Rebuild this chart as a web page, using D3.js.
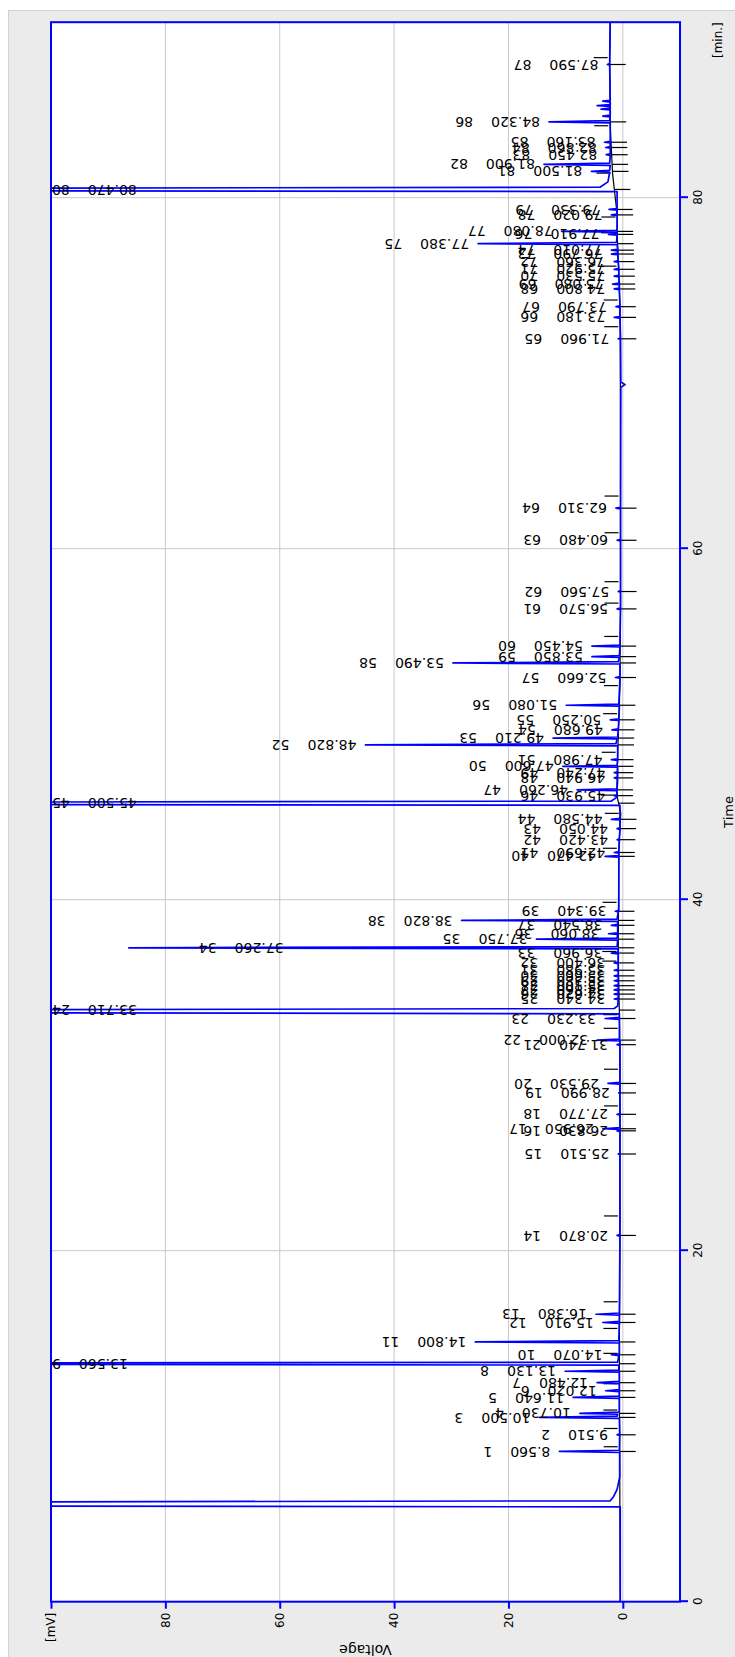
<!DOCTYPE html>
<html lang="en">
<head>
<meta charset="UTF-8">
<title>Chromatogram</title>
<script src="https://d3js.org/d3.v7.min.js"></script>
<style>
  body { margin: 0; background: #fff; }
  svg { display: block; font-family: "DejaVu Sans", sans-serif; }
</style>
</head>
<body>
<div id="chart"></div>
<script>
// peak table: retention time [min], apex [mV]
var peakTimes = [8.56, 9.51, 10.50, 10.73, 11.64, 12.02, 12.48, 13.13, 13.56, 14.07,
    14.80, 15.91, 16.38, 20.87, 25.51, 26.83, 26.95, 27.77, 28.99, 29.53,
    31.74, 32.00, 33.23, 33.71, 34.34, 34.62, 34.86, 35.10, 35.38, 35.66,
    35.98, 36.40, 36.96, 37.26, 37.75, 38.06, 38.54, 38.82, 39.34, 42.47,
    42.69, 43.42, 44.05, 44.58, 45.50, 45.93, 46.26, 46.94, 47.24, 47.60,
    47.98, 48.82, 49.21, 49.68, 50.25, 51.08, 52.66, 53.49, 53.85, 54.45,
    56.57, 57.56, 60.48, 62.31, 71.96, 73.18, 73.79, 74.80, 75.08, 75.53,
    75.92, 76.36, 76.79, 77.01, 77.38, 77.91, 78.08, 79.02, 79.33, 80.47,
    81.50, 81.90, 82.45, 82.86, 83.16, 84.32, 87.59];
var peakHeights = [11.1, 1.0, 14.6, 7.5, 8.7, 3.0, 4.5, 10.1, 200, 2.0,
    25.8, 3.5, 4.7, 1.0, 0.8, 1.0, 3.5, 1.0, 0.7, 2.6,
    1.0, 4.5, 3.1, 250, 1.5, 1.5, 1.5, 1.5, 1.5, 1.5,
    1.5, 1.5, 2.0, 86.4, 15.1, 2.5, 2.0, 28.2, 1.3, 3.1,
    1.5, 1.0, 1.0, 2.0, 260, 1.5, 8.0, 1.5, 1.5, 10.5,
    2.0, 45.0, 12.2, 1.9, 2.2, 9.9, 1.3, 29.7, 5.4, 5.4,
    1.0, 0.8, 1.0, 1.2, 0.8, 1.5, 1.2, 1.5, 1.8, 1.5,
    1.5, 1.5, 2.0, 2.0, 25.3, 2.5, 10.7, 2.0, 2.4, 270,
    5.5, 13.8, 2.9, 3.0, 3.2, 12.9, 2.7];

// peak boundaries (integration baseline) [min, mV]
var baseTimes = [0, 8.83, 9.87, 10.92, 12.42, 14.15, 15.57, 17.09, 21.98, 28.25, 30.34,
    32.67, 33.45, 36.50, 37.05, 39.85, 42.93, 44.92, 45.96, 48.40, 50.60, 52.20,
    55.00, 56.90, 58.12, 60.91, 63.00, 72.65, 74.17, 76.10, 78.00, 78.90, 81.40,
    84.10, 87.98, 90];
var baseVolts = [0.45, 0.55, 0.55, 0.6, 0.6, 0.6, 0.6, 0.55, 0.5, 0.5, 0.5,
    0.55, 0.6, 0.8, 0.8, 0.75, 0.7, 0.35, 1.05, 0.9, 0.65, 0.5,
    0.45, 0.4, 0.4, 0.4, 0.4, 0.45, 0.55, 0.75, 1.0, 0.95, 1.8,
    2.2, 2.3, 2.2];

// detector trace vertices [min, mV]
var trace = [[0, 0.45], [5.40, 0.45], [5.55, 320], [5.75, 2.2], [6.0, 1.6], [6.4, 1.0], [7.1, 0.55],
    [8.50, 0.55], [8.56, 11.1], [8.63, 0.6], [9.47, 0.55], [9.51, 1.0], [9.56, 0.55],
    [10.45, 0.6], [10.50, 14.6], [10.57, 1.0], [10.68, 0.9], [10.73, 7.5], [10.80, 0.6],
    [11.59, 0.6], [11.64, 8.7], [11.71, 0.6], [11.97, 0.6], [12.02, 3.0], [12.08, 0.6],
    [12.43, 0.6], [12.48, 4.5], [12.55, 0.6], [13.08, 0.6], [13.13, 10.1], [13.20, 0.7],
    [13.48, 0.7], [13.56, 200], [13.65, 0.9], [14.02, 0.7], [14.07, 2.0], [14.12, 0.6],
    [14.74, 0.6], [14.80, 25.8], [14.88, 0.7], [15.86, 0.6], [15.91, 3.5], [15.97, 0.6],
    [16.33, 0.6], [16.38, 4.7], [16.45, 0.6], [20.83, 0.5], [20.87, 1.0], [20.92, 0.5],
    [25.47, 0.5], [25.51, 0.8], [25.56, 0.5], [26.79, 0.5], [26.83, 1.0], [26.88, 0.6],
    [26.91, 0.6], [26.95, 3.5], [27.01, 0.5], [27.73, 0.5], [27.77, 1.0], [27.82, 0.5],
    [28.95, 0.5], [28.99, 0.7], [29.04, 0.5], [29.49, 0.5], [29.53, 2.6], [29.59, 0.5],
    [31.70, 0.5], [31.74, 1.0], [31.79, 0.5], [31.95, 0.5], [32.00, 4.5], [32.06, 0.6],
    [33.18, 0.6], [33.23, 3.1], [33.29, 0.6], [33.50, 0.6], [33.63, 250], [33.80, 1.5], [33.95, 0.9],
    [34.30, 0.8], [34.34, 1.5], [34.39, 0.8], [34.58, 0.8], [34.62, 1.5], [34.67, 0.8],
    [34.82, 0.8], [34.86, 1.5], [34.91, 0.8], [35.06, 0.8], [35.10, 1.5], [35.15, 0.8],
    [35.34, 0.8], [35.38, 1.5], [35.43, 0.8], [35.62, 0.8], [35.66, 1.5], [35.71, 0.8],
    [35.94, 0.8], [35.98, 1.5], [36.03, 0.8], [36.36, 0.8], [36.40, 1.5], [36.45, 0.8],
    [36.91, 0.8], [36.96, 2.0], [37.01, 0.8], [37.20, 0.8], [37.26, 86.4], [37.33, 1.0],
    [37.70, 0.9], [37.75, 15.1], [37.81, 1.0], [38.02, 0.9], [38.06, 2.5], [38.11, 0.9],
    [38.50, 0.9], [38.54, 2.0], [38.59, 0.9], [38.76, 0.9], [38.82, 28.2], [38.89, 1.0],
    [39.30, 0.8], [39.34, 1.3], [39.39, 0.7], [42.43, 0.7], [42.47, 3.1], [42.52, 0.7],
    [42.65, 0.7], [42.69, 1.5], [42.74, 0.7], [43.38, 0.6], [43.42, 1.0], [43.47, 0.6],
    [44.01, 0.5], [44.05, 1.0], [44.10, 0.5], [44.54, 0.5], [44.58, 2.0], [44.63, 0.5],
    [45.38, 0.5], [45.48, 260], [45.62, 2.0], [45.80, 1.2], [45.89, 1.0], [45.93, 1.5], [45.98, 1.0],
    [46.21, 1.0], [46.26, 8.0], [46.32, 1.0], [46.90, 0.9], [46.94, 1.5], [46.99, 0.9],
    [47.20, 0.9], [47.24, 1.5], [47.29, 0.9], [47.55, 0.9], [47.60, 10.5], [47.66, 1.0],
    [47.94, 0.9], [47.98, 2.0], [48.03, 0.9], [48.76, 0.9], [48.82, 45.0], [48.89, 1.2],
    [49.16, 1.0], [49.21, 12.2], [49.27, 0.9], [49.64, 0.8], [49.68, 1.9], [49.73, 0.8],
    [50.21, 0.7], [50.25, 2.2], [50.30, 0.7], [51.03, 0.6], [51.08, 9.9], [51.14, 0.7],
    [52.62, 0.5], [52.66, 1.3], [52.71, 0.5], [53.43, 0.5], [53.49, 29.7], [53.56, 0.8],
    [53.80, 0.6], [53.85, 5.4], [53.91, 0.6], [54.40, 0.5], [54.45, 5.4], [54.51, 0.5],
    [56.53, 0.4], [56.57, 1.0], [56.62, 0.4], [57.52, 0.4], [57.56, 0.8], [57.61, 0.4],
    [60.44, 0.4], [60.48, 1.0], [60.53, 0.4], [62.27, 0.4], [62.31, 1.2], [62.36, 0.4],
    [69.20, 0.35], [69.35, -0.4], [69.50, 0.35], [71.92, 0.4], [71.96, 0.8], [72.01, 0.4],
    [73.14, 0.5], [73.18, 1.5], [73.23, 0.5], [73.75, 0.5], [73.79, 1.2], [73.84, 0.5],
    [74.76, 0.6], [74.80, 1.5], [74.85, 0.6], [75.04, 0.6], [75.08, 1.8], [75.13, 0.6],
    [75.49, 0.7], [75.53, 1.5], [75.58, 0.7], [75.88, 0.7], [75.92, 1.5], [75.97, 0.7],
    [76.32, 0.8], [76.36, 1.5], [76.41, 0.8], [76.75, 0.9], [76.79, 2.0], [76.84, 0.9],
    [76.97, 0.9], [77.01, 2.0], [77.06, 0.9], [77.32, 1.0], [77.38, 25.3], [77.45, 1.1],
    [77.87, 1.0], [77.91, 2.5], [77.96, 1.0], [78.03, 1.0], [78.08, 10.7], [78.14, 1.0],
    [78.98, 1.0], [79.02, 2.0], [79.07, 1.0], [79.29, 1.0], [79.33, 2.4], [79.38, 1.0],
    [80.35, 1.0], [80.46, 270], [80.60, 4.0], [80.90, 2.6], [81.45, 2.3], [81.50, 5.5], [81.56, 2.3],
    [81.84, 2.2], [81.90, 13.8], [81.97, 2.3], [82.41, 2.2], [82.45, 2.9], [82.50, 2.2],
    [82.82, 2.2], [82.86, 3.0], [82.91, 2.2], [83.12, 2.2], [83.16, 3.2], [83.21, 2.2],
    [84.26, 2.2], [84.32, 12.9], [84.39, 2.3], [84.61, 2.2], [84.65, 3.5], [84.70, 2.2],
    [85.00, 2.2], [85.05, 3.8], [85.10, 2.2], [85.20, 2.2], [85.25, 4.5], [85.30, 2.2],
    [85.45, 2.2], [85.50, 3.5], [85.55, 2.2], [87.55, 2.3], [87.59, 2.7], [87.64, 2.3], [90, 2.2]];

var timeTicks = [0, 20, 40, 60, 80];
var voltTicks = [0, 20, 40, 60, 80, 100];

// the chart is drawn time-along-x and then turned a quarter left as a whole
var W = 1657, H = 735;
var x = d3.scaleLinear().domain([0, 90]).range([55.3, 1634.8]);
var y = d3.scaleLinear().domain([-10, 100]).range([680, 51]);
var base = d3.scaleLinear().domain(baseTimes).range(baseVolts);

var svg = d3.select('#chart').append('svg')
    .attr('width', H)
    .attr('height', W);

svg.append('rect')
    .attr('x', 8.5).attr('y', 10.5)
    .attr('width', H - 8).attr('height', W - 10)
    .attr('fill', '#ebebeb')
    .attr('stroke', '#d2d2d2');

var g = svg.append('g')
    .attr('transform', 'translate(0,' + W + ') rotate(-90)');

g.append('clipPath').attr('id', 'plotClip')
    .append('rect')
    .attr('x', x(0)).attr('y', y(100))
    .attr('width', x(90) - x(0)).attr('height', y(-10) - y(100));

g.append('rect')
    .attr('x', x(0)).attr('y', y(100))
    .attr('width', x(90) - x(0)).attr('height', y(-10) - y(100))
    .attr('fill', '#fff');

// grid
g.selectAll('.vgrid')
    .data(timeTicks.slice(1))
    .enter().append('line')
    .attr('x1', function (d) { return x(d); })
    .attr('x2', function (d) { return x(d); })
    .attr('y1', y(100)).attr('y2', y(-10))
    .attr('stroke', '#c8c8c8');

g.selectAll('.hgrid')
    .data(voltTicks.slice(0, 5))
    .enter().append('line')
    .attr('y1', function (d) { return y(d); })
    .attr('y2', function (d) { return y(d); })
    .attr('x1', x(0)).attr('x2', x(90))
    .attr('stroke', '#c8c8c8');

var line = d3.line()
    .x(function (d) { return x(d[0]); })
    .y(function (d) { return y(d[1]); });

// integration baseline, boundary marks and retention marks
var marks = g.append('g').attr('stroke', '#000').attr('stroke-width', 1.2);

marks.append('path')
    .datum(d3.zip(baseTimes, baseVolts))
    .attr('d', line)
    .attr('fill', 'none');

marks.selectAll('.bound')
    .data(baseTimes.slice(1, -1))
    .enter().append('line')
    .attr('x1', function (d) { return x(d); })
    .attr('x2', function (d) { return x(d); })
    .attr('y1', function (d) { return y(base(d)) - 2; })
    .attr('y2', function (d) { return y(base(d)) - 16; });

marks.selectAll('.rt')
    .data(peakTimes)
    .enter().append('line')
    .attr('x1', function (d) { return x(d); })
    .attr('x2', function (d) { return x(d); })
    .attr('y1', function (d) { return y(base(d)); })
    .attr('y2', function (d) { return y(base(d)) + 16; });

g.append('path')
    .datum(trace)
    .attr('clip-path', 'url(#plotClip)')
    .attr('d', line)
    .attr('fill', 'none')
    .attr('stroke', '#0000ff')
    .attr('stroke-width', 1.7)
    .attr('stroke-linejoin', 'round');

// peak labels: time and number, written along the peak
var fmt = d3.format('.3f');
var labels = g.selectAll('.plabel')
    .data(peakTimes)
    .enter().append('text')
    .attr('class', 'plabel')
    .attr('font-size', 14)
    .attr('fill', '#000')
    .attr('dy', '0.35em');

labels.append('tspan').text(function (d) { return fmt(d); });
labels.append('tspan').attr('dx', 18).text(function (d, i) { return i + 1; });

labels.attr('transform', function (d, i) {
    var w = this.getBBox().width;
    var h = peakHeights[i];
    var tip = y(Math.min(h, 100));
    var top = tip - 9;
    if (top - w < y(100)) {
        // off-scale peaks get the label pinned to the frame,
        // a tall peak that leaves no room gets it dropped beside the spike
        top = h > 100 ? y(100) + w + 1 : tip + w + 70;
    }
    return 'translate(' + x(d) + ',' + top + ') rotate(-90)';
});

// frame
g.append('rect')
    .attr('x', x(0)).attr('y', y(100))
    .attr('width', x(90) - x(0)).attr('height', y(-10) - y(100))
    .attr('fill', 'none')
    .attr('stroke', '#0000ff')
    .attr('stroke-width', 2);

// axes
var yAxis = g.append('g')
    .attr('transform', 'translate(' + x(0) + ',0)')
    .call(d3.axisLeft(y).tickValues(voltTicks).tickSize(7).tickPadding(4)
        .tickFormat(function (d) { return d === 100 ? '[mV]' : d; }));

var xAxis = g.append('g')
    .attr('transform', 'translate(0,' + y(-10) + ')')
    .call(d3.axisBottom(x).tickValues(timeTicks).tickSize(8).tickPadding(5));

[yAxis, xAxis].forEach(function (a) {
    a.select('.domain').remove();
    a.selectAll('line').attr('stroke', '#0000ff').attr('stroke-width', 2);
    a.selectAll('text').attr('font-size', 12).attr('font-family', 'DejaVu Sans').attr('fill', '#000');
});

g.append('text')
    .attr('x', x(90)).attr('y', 722)
    .attr('text-anchor', 'end')
    .attr('font-size', 12)
    .text('[min.]');

g.append('text')
    .attr('x', (x(0) + x(90)) / 2).attr('y', 733)
    .attr('text-anchor', 'middle')
    .attr('font-size', 13)
    .text('Time');

g.append('text')
    .attr('transform', 'translate(12,' + (y(100) + y(-10)) / 2 + ') rotate(-90)')
    .attr('text-anchor', 'middle')
    .attr('font-size', 14)
    .text('Voltage');
</script>
</body>
</html>
